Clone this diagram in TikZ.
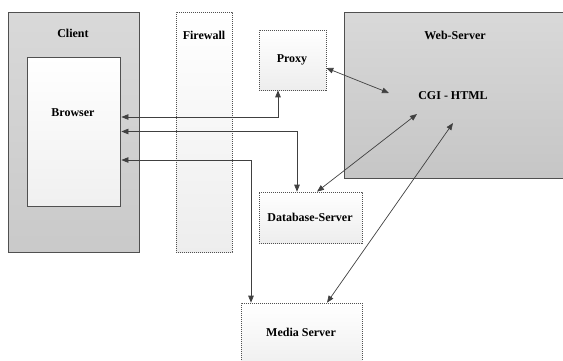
\documentclass[tikz,border=0pt]{standalone}
\usepackage{fontspec}
\setmainfont{Liberation Serif}
\usetikzlibrary{arrows.meta}

\definecolor{edge}{HTML}{505050}
\definecolor{wire}{HTML}{404040}

\tikzset{
	solidbox/.style={draw=edge, line width=0.8pt, top color=gray!30, bottom color=gray!#1, inner sep=0pt},
	dashbox/.style={draw=edge, line width=0.6pt, dash pattern=on 1.2pt off 0.8pt, top color=white, bottom color=gray!14, inner sep=0pt},
	lbl/.style={font=\bfseries\fontsize{12}{14}\selectfont, inner sep=1pt},
	link/.style={draw=wire, line width=0.7pt, {Triangle[length=7pt,width=5.5pt]}-{Triangle[length=7pt,width=5.5pt]}},
}

\begin{document}
\begin{tikzpicture}[x=1pt,y=-1pt]
		\useasboundingbox (0,0) rectangle (563,360);
		% boxes
		\node[solidbox=42, minimum width=131pt, minimum height=240pt] (client) at (73.5,132) {};
		\node[draw=edge, line width=0.8pt, top color=white, bottom color=gray!12, minimum width=93pt, minimum height=149pt] (browser) at (73.5,131.5) {};
		\node[dashbox, minimum width=56pt, minimum height=240pt] (firewall) at (204,132) {};
		\node[dashbox, minimum width=67pt, minimum height=60pt] (proxy) at (292.5,60) {};
		\node[solidbox=45, minimum width=231pt, minimum height=166pt] (web) at (459.5,95) {};
		\node[dashbox, minimum width=103pt, minimum height=51pt] (db) at (310.5,217.5) {};
		\node[dashbox, minimum width=121pt, minimum height=72pt] (media) at (301.5,339) {};
		% texts
		\node[lbl] (clienttxt) at (73,33) {Client};
		\node[lbl] (browsertxt) at (73,113) {Browser};
		\node[lbl] (firewalltxt) at (204,35) {Firewall};
		\node[lbl] (proxytxt) at (292,60) {Proxy};
		\node[lbl] (webtxt) at (455,35) {Web-Server};
		\node[lbl] (cgi) at (453,96) {CGI - HTML};
		\node[lbl] (dbtxt) at (310,217) {Database-Server};
		\node[lbl] (mediatxt) at (301,332) {Media Server};
		\coordinate (cgiA) at (389,93);
		\coordinate (cgiB) at (417,114);
		\coordinate (cgiC) at (453,123);
		% connectors
		\draw[link] ([xshift=-14.5pt]proxy.south) |- ([yshift=14.5pt,xshift=1pt]browser.east);
		\draw[link] ([xshift=-13.5pt]db.north) |- ([xshift=1pt]browser.east);
		\draw[link] ([xshift=-50.5pt]media.north) |- ([yshift=-28.5pt,xshift=1pt]browser.east);
		\draw[link] ([yshift=-8pt]proxy.east) -- (cgiA);
		\draw[link] ([xshift=6.5pt]db.north) -- (cgiB);
		\draw[link] ([xshift=25.5pt]media.north) -- (cgiC);
	\end{tikzpicture}
\end{document}
